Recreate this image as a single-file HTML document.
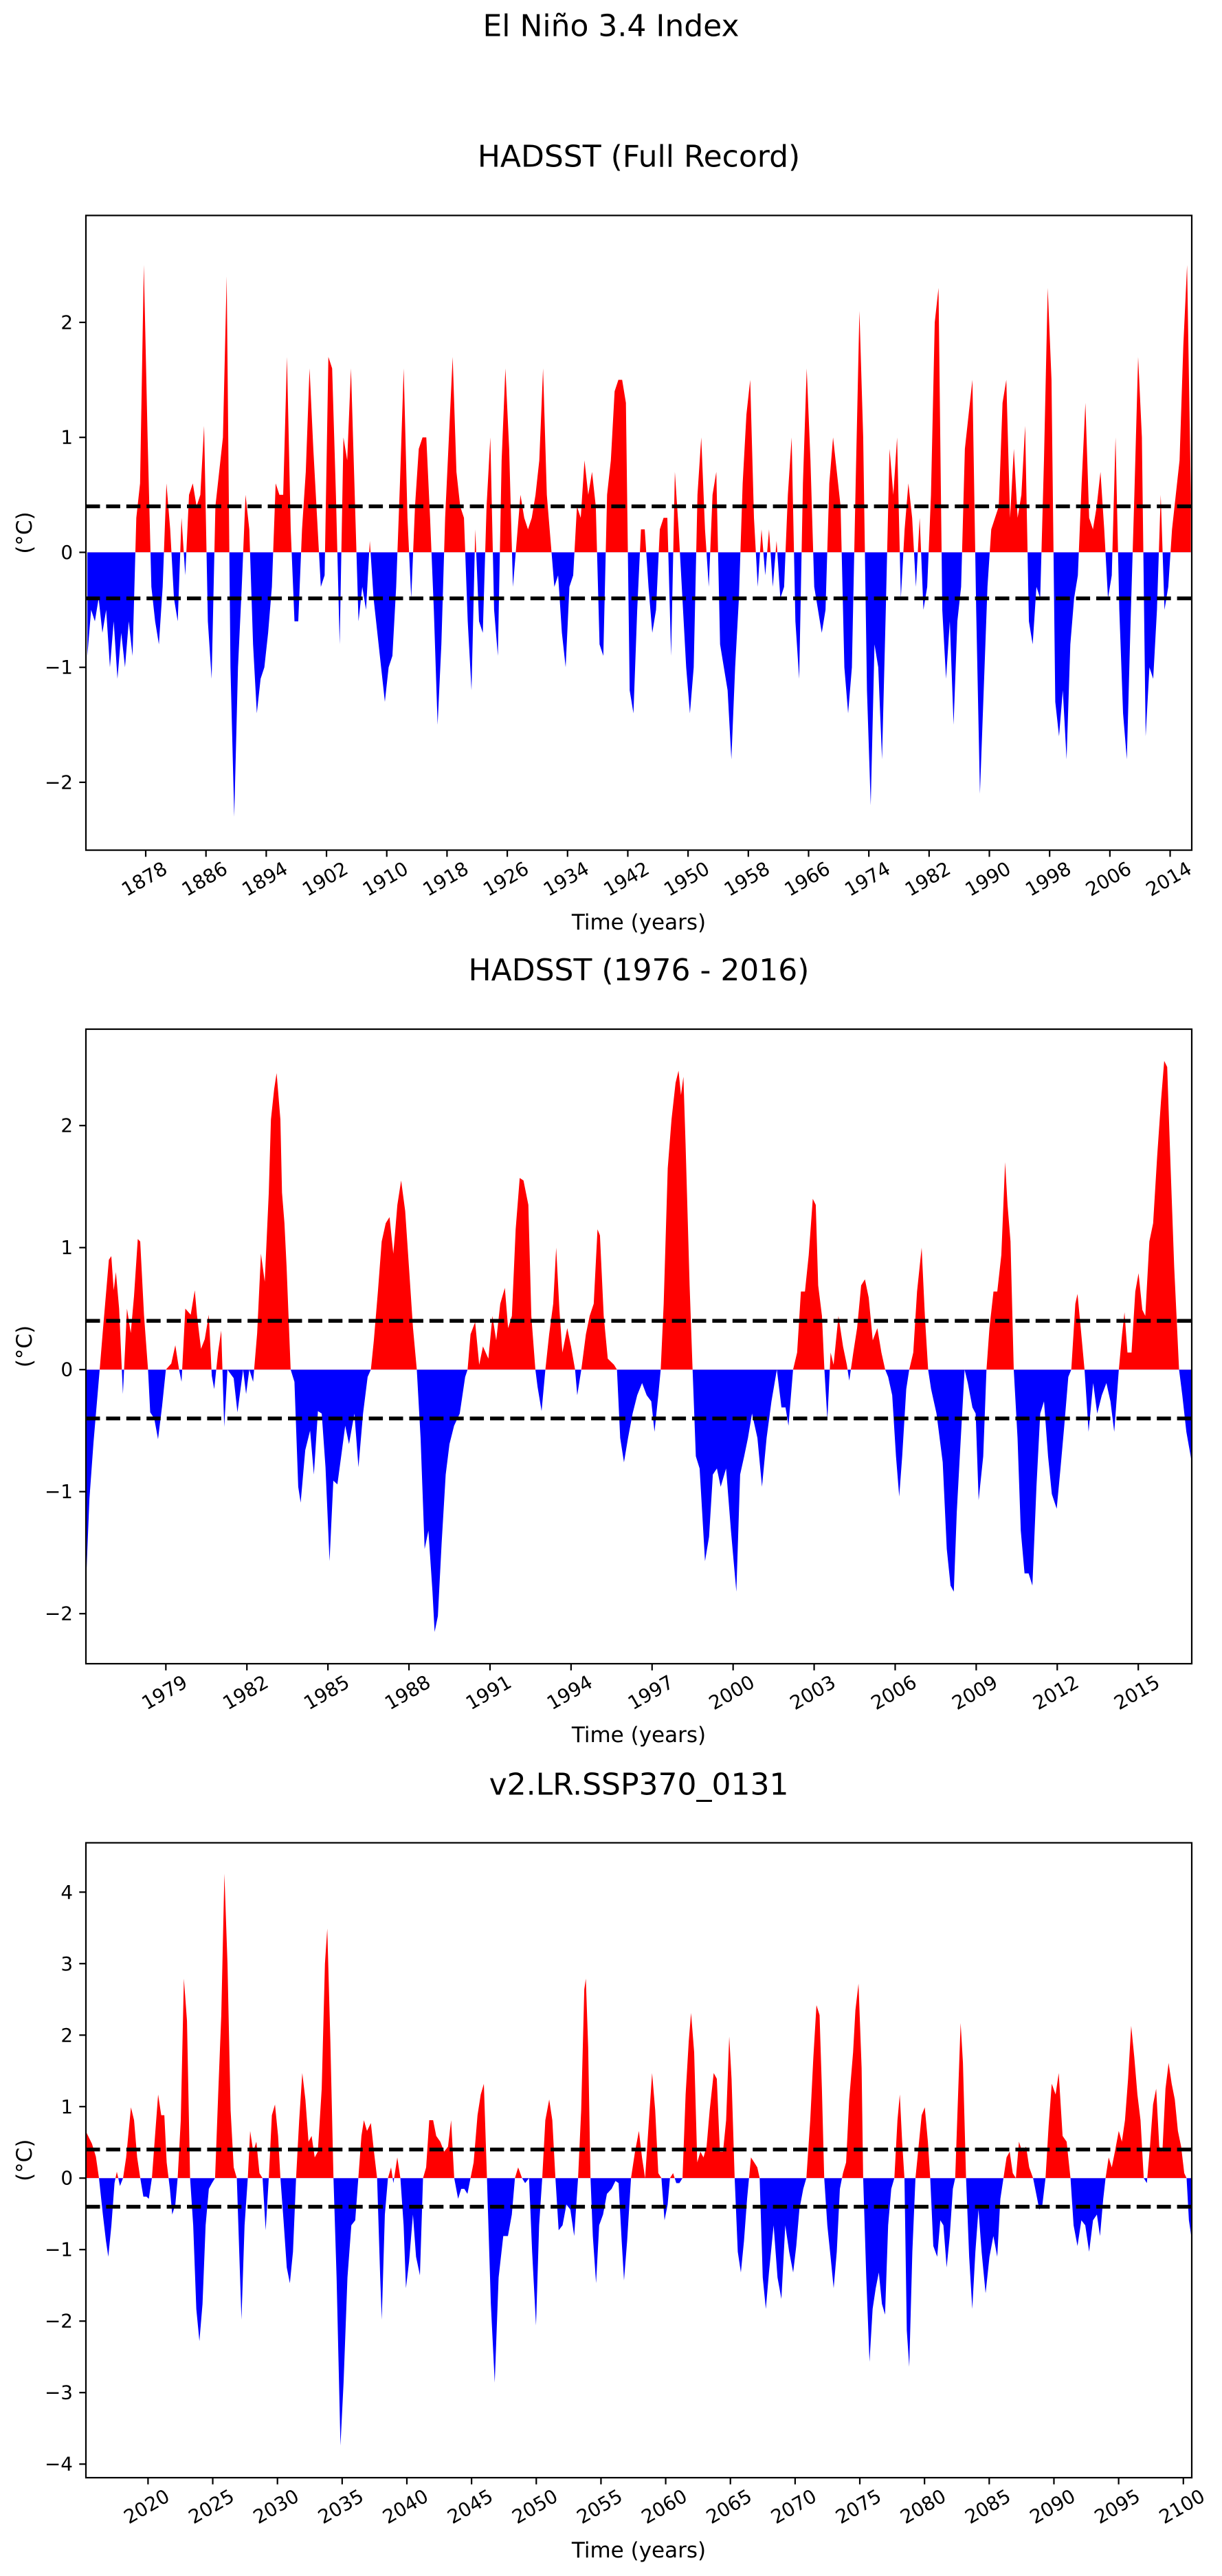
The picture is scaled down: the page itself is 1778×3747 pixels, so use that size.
<!DOCTYPE html>
<html><head><meta charset="utf-8"><title>El Niño 3.4 Index</title>
<style>
html,body{margin:0;padding:0;background:#fff;}
svg{display:block;font-family:"DejaVu Sans","Liberation Sans",sans-serif;}
</style></head>
<body>
<svg id="fig" xmlns="http://www.w3.org/2000/svg" width="1778" height="3747" viewBox="0 0 1778 3747">
<rect x="0" y="0" width="1778" height="3747" fill="#fff"/>
<text x="889" y="38" font-size="44" text-anchor="middle" dominant-baseline="central">El Niño 3.4 Index</text>
</svg>
<script>
// ---- Panel 1: HADSST full record (half-year samples from 1870) ----
const p1StartYear = 1870.25;
const p1StepYears = 0.5;
const p1Values = [
-0.9,-0.5,-0.6,-0.4,-0.7,-0.5,-1.0,-0.6,-1.1,-0.7,-1.0,-0.6,-0.9,0.3,0.6,2.5,1.0,-0.3,-0.6,-0.8,
-0.3,0.6,0.2,-0.4,-0.6,0.3,-0.2,0.5,0.6,0.4,0.5,1.1,-0.6,-1.1,0.4,0.7,1.0,2.4,-1.0,-2.3,
-1.0,-0.3,0.5,0.2,-0.8,-1.4,-1.1,-1.0,-0.7,-0.3,0.6,0.5,0.5,1.7,0.2,-0.6,-0.6,0.2,0.7,1.6,
0.9,0.3,-0.3,-0.2,1.7,1.6,0.5,-0.8,1.0,0.8,1.6,0.5,-0.6,-0.3,-0.5,0.1,-0.4,-0.7,-1.0,-1.3,
-1.0,-0.9,-0.3,0.6,1.6,0.3,-0.4,0.4,0.9,1.0,1.0,0.3,-0.5,-1.5,-0.8,0.3,1.0,1.7,0.7,0.4,
0.3,-0.6,-1.2,0.2,-0.6,-0.7,0.4,1.0,-0.5,-0.9,0.8,1.6,0.9,-0.3,0.1,0.5,0.3,0.2,0.3,0.5,
0.8,1.6,0.5,0.1,-0.3,-0.2,-0.7,-1.0,-0.3,-0.2,0.4,0.3,0.8,0.5,0.7,0.4,-0.8,-0.9,0.5,0.8,
1.4,1.5,1.5,1.3,-1.2,-1.4,-0.5,0.2,0.2,-0.3,-0.7,-0.5,0.2,0.3,0.3,-0.9,0.7,0.2,-0.4,-1.0,
-1.4,-1.0,0.5,1.0,0.2,-0.3,0.5,0.7,-0.8,-1.0,-1.2,-1.8,-1.0,-0.4,0.6,1.2,1.5,0.3,-0.3,0.2,
-0.2,0.2,-0.3,0.1,-0.4,-0.3,0.5,1.0,-0.6,-1.1,0.6,1.6,0.8,-0.3,-0.5,-0.7,-0.5,0.6,1.0,0.7,
0.4,-1.0,-1.4,-1.0,0.6,2.1,1.0,-1.2,-2.2,-0.8,-1.0,-1.8,-0.5,0.9,0.5,1.0,-0.4,0.2,0.6,0.3,
-0.3,0.3,-0.5,-0.3,0.5,2.0,2.3,-0.5,-1.1,-0.6,-1.5,-0.6,-0.3,0.9,1.2,1.5,-0.5,-2.1,-1.2,-0.3,
0.2,0.3,0.4,1.3,1.5,0.3,0.9,0.3,0.5,1.1,-0.6,-0.8,-0.3,-0.4,0.8,2.3,1.5,-1.3,-1.6,-1.2,
-1.8,-0.8,-0.4,-0.2,0.6,1.3,0.3,0.2,0.4,0.7,0.2,-0.4,-0.2,1.0,-0.5,-1.4,-1.8,-0.6,0.5,1.7,
1.0,-1.6,-1.0,-1.1,-0.5,0.5,-0.5,-0.3,0.2,0.5,0.8,1.8,2.5,0.5
];
const p1XTicks = [1878,1886,1894,1902,1910,1918,1926,1934,1942,1950,1958,1966,1974,1982,1990,1998,2006,2014];
const p1YTicks = [-2,-1,0,1,2];

// ---- Panel 2: HADSST 1976-2016 ----
const p2Times = [
1976.03,1976.17,1976.32,1976.55,1976.66,1976.89,1976.98,1977.07,1977.15,1977.27,1977.41,1977.56,1977.70,1977.82,1977.96,1978.05,1978.19,1978.34,1978.42,1978.57,1978.71,1978.86,
1979.00,1979.20,1979.35,1979.49,1979.58,1979.72,1979.92,1980.07,1980.15,1980.30,1980.44,1980.59,1980.70,1980.79,1980.93,1981.05,1981.16,1981.28,1981.51,1981.65,1981.86,1981.97,
1982.09,1982.23,1982.38,1982.52,1982.66,1982.81,1982.89,1983.01,1983.10,1983.24,1983.30,1983.39,1983.47,1983.62,1983.76,1983.90,1983.99,1984.16,1984.34,1984.48,1984.63,1984.77,1984.91,
1985.06,1985.20,1985.35,1985.49,1985.64,1985.78,1985.98,1986.13,1986.30,1986.47,1986.59,1986.70,1986.85,1986.99,1987.14,1987.28,1987.42,1987.57,1987.71,1987.86,1988.00,1988.15,1988.29,
1988.43,1988.58,1988.72,1988.87,1988.95,1989.07,1989.21,1989.36,1989.50,1989.67,1989.88,1990.08,1990.17,1990.28,1990.45,1990.60,1990.74,1990.94,1991.09,1991.23,1991.38,1991.55,1991.67,
1991.81,1991.95,1992.10,1992.24,1992.42,1992.53,1992.68,1992.76,1992.91,1993.05,1993.19,1993.34,1993.45,1993.57,1993.68,1993.86,1994.00,1994.15,1994.23,1994.38,1994.55,1994.69,1994.84,
1994.98,1995.07,1995.21,1995.36,1995.59,1995.70,1995.82,1995.96,1996.11,1996.28,1996.45,1996.63,1996.80,1996.97,1997.09,1997.23,1997.32,1997.43,1997.58,1997.72,1997.87,1997.98,1998.07,
1998.16,1998.24,1998.39,1998.50,1998.62,1998.76,1998.96,1999.11,1999.25,1999.40,1999.54,1999.74,1999.92,2000.12,2000.26,2000.41,2000.55,2000.70,2000.90,2001.07,2001.24,2001.42,2001.62,
2001.79,2001.94,2002.05,2002.22,2002.37,2002.51,2002.66,2002.80,2002.95,2003.06,2003.15,2003.29,2003.38,2003.49,2003.61,2003.72,2003.90,2004.07,2004.21,2004.30,2004.45,2004.59,2004.74,
2004.88,2005.02,2005.17,2005.34,2005.49,2005.63,2005.74,2005.89,2006.03,2006.15,2006.26,2006.41,2006.52,2006.67,2006.81,2006.98,2007.10,2007.22,2007.33,2007.53,2007.76,2007.91,2008.05,
2008.17,2008.28,2008.43,2008.57,2008.69,2008.86,2008.98,2009.09,2009.26,2009.38,2009.49,2009.64,2009.78,2009.93,2010.07,2010.16,2010.27,2010.39,2010.53,2010.65,2010.79,2010.94,2011.08,
2011.23,2011.37,2011.51,2011.66,2011.80,2011.98,2012.12,2012.26,2012.41,2012.52,2012.67,2012.75,2012.87,2013.01,2013.16,2013.33,2013.48,2013.65,2013.82,2013.97,2014.11,2014.28,2014.40,
2014.49,2014.60,2014.75,2014.89,2015.01,2015.15,2015.26,2015.41,2015.55,2015.70,2015.84,2015.96,2016.07,2016.19,2016.33,2016.51,2016.63,2016.78,2016.98
];
const p2Values = [
-1.82,-1.06,-0.6,0,0.3,0.9,0.93,0.65,0.8,0.5,-0.2,0.5,0.3,0.6,1.07,1.05,0.45,0,-0.35,-0.4,-0.57,-0.3,
0,0.05,0.2,0,-0.1,0.5,0.45,0.65,0.45,0.17,0.25,0.45,-0.05,-0.16,0.14,0.32,-0.47,0,-0.07,-0.35,0,-0.2,
0,-0.1,0.3,0.95,0.72,1.45,2.05,2.3,2.43,2.05,1.45,1.2,0.84,0,-0.1,-0.96,-1.09,-0.66,-0.5,-0.86,-0.34,-0.36,-0.8,
-1.57,-0.91,-0.94,-0.71,-0.46,-0.61,-0.36,-0.8,-0.36,-0.06,0,0.24,0.64,1.05,1.2,1.25,0.95,1.35,1.55,1.3,0.84,0.34,0,
-0.56,-1.47,-1.32,-1.82,-2.15,-2.02,-1.42,-0.86,-0.61,-0.46,-0.36,-0.06,0,0.29,0.39,0.04,0.19,0.09,0.44,0.24,0.54,0.67,0.34,
0.44,1.15,1.57,1.55,1.35,0.44,0,-0.14,-0.34,0,0.29,0.54,1.0,0.49,0.14,0.34,0.19,0,-0.21,0,0.29,0.44,0.54,
1.15,1.1,0.44,0.09,0.04,0,-0.56,-0.76,-0.56,-0.36,-0.21,-0.11,-0.21,-0.26,-0.51,-0.21,0,0.54,1.65,2.05,2.35,2.45,2.25,
2.4,1.85,0.69,0,-0.71,-0.81,-1.57,-1.37,-0.86,-0.81,-0.96,-0.81,-1.32,-1.82,-0.86,-0.71,-0.56,-0.36,-0.56,-0.96,-0.56,-0.26,0,
-0.31,-0.31,-0.46,0,0.14,0.64,0.64,0.94,1.4,1.35,0.69,0.44,0,-0.41,0.14,0.04,0.44,0.19,0.04,-0.09,0.14,0.34,0.69,
0.74,0.59,0.24,0.34,0.14,0,-0.06,-0.21,-0.71,-1.04,-0.71,-0.16,0,0.14,0.64,1.0,0.44,0,-0.16,-0.36,-0.76,-1.47,-1.77,
-1.82,-1.17,-0.56,0,-0.11,-0.31,-0.36,-1.07,-0.71,0,0.34,0.64,0.64,0.94,1.7,1.35,1.05,0,-0.56,-1.32,-1.67,-1.67,-1.77,
-0.96,-0.36,-0.26,-0.71,-1.02,-1.14,-0.81,-0.46,-0.06,0,0.54,0.62,0.34,0,-0.51,-0.11,-0.36,-0.21,-0.11,-0.26,-0.51,0,0.29,
0.47,0.14,0.14,0.64,0.79,0.49,0.44,1.05,1.2,1.75,2.2,2.53,2.48,1.7,0.84,0,-0.21,-0.51,-0.76
];
const p2XTicks = [1979,1982,1985,1988,1991,1994,1997,2000,2003,2006,2009,2012,2015];
const p2YTicks = [-2,-1,0,1,2];

// ---- Panel 3: v2.LR.SSP370_0131 ----
const p3Times = [
2015.18,2015.67,2015.97,2016.21,2016.51,2016.75,2016.93,2017.17,2017.41,2017.59,2017.83,2018.07,2018.31,2018.68,2018.92,2019.16,2019.40,2019.64,2019.88,2020.06,
2020.30,2020.54,2020.78,2021.02,2021.26,2021.44,2021.69,2021.87,2022.11,2022.29,2022.53,2022.77,2023.01,2023.25,2023.49,2023.73,2023.97,2024.21,2024.45,2024.70,
2024.94,2025.18,2025.42,2025.66,2025.90,2026.14,2026.38,2026.62,2026.86,2026.98,2027.22,2027.46,2027.71,2027.89,2028.13,2028.37,2028.61,2028.85,2029.09,2029.33,
2029.57,2029.81,2030.05,2030.23,2030.47,2030.72,2030.96,2031.20,2031.44,2031.68,2031.92,2032.16,2032.40,2032.64,2032.88,2033.12,2033.42,2033.67,2033.85,2034.09,
2034.33,2034.57,2034.87,2035.11,2035.41,2035.71,2036.01,2036.25,2036.49,2036.68,2036.92,2037.22,2037.46,2037.70,2037.94,2038.06,2038.30,2038.54,2038.78,2038.96,
2039.26,2039.50,2039.75,2039.93,2040.17,2040.47,2040.71,2041.01,2041.25,2041.49,2041.73,2042.03,2042.27,2042.58,2042.88,2043.18,2043.42,2043.66,2043.96,2044.20,
2044.44,2044.68,2044.92,2045.16,2045.46,2045.71,2045.95,2046.19,2046.49,2046.79,2047.09,2047.45,2047.81,2048.11,2048.35,2048.60,2048.90,2049.14,2049.44,2049.68,
2049.98,2050.22,2050.46,2050.70,2051.00,2051.24,2051.48,2051.73,2052.03,2052.33,2052.63,2052.93,2053.23,2053.47,2053.71,2053.83,2054.01,2054.19,2054.37,2054.62,
2054.86,2055.16,2055.46,2055.82,2056.12,2056.36,2056.60,2056.78,2057.02,2057.32,2057.63,2057.93,2058.17,2058.41,2058.65,2058.95,2059.19,2059.43,2059.67,2059.91,
2060.15,2060.33,2060.57,2060.82,2061.06,2061.30,2061.54,2061.78,2061.96,2062.20,2062.44,2062.68,2062.92,2063.16,2063.40,2063.71,2063.95,2064.19,2064.43,2064.67,
2064.91,2065.09,2065.33,2065.57,2065.81,2066.05,2066.29,2066.59,2066.84,2067.08,2067.26,2067.50,2067.74,2067.98,2068.34,2068.64,2068.94,2069.24,2069.54,2069.85,
2070.09,2070.33,2070.63,2070.87,2071.17,2071.41,2071.65,2071.89,2072.07,2072.25,2072.49,2072.74,2072.98,2073.22,2073.46,2073.70,2073.94,2074.18,2074.48,2074.66,
2074.90,2075.14,2075.26,2075.50,2075.75,2075.99,2076.23,2076.47,2076.71,2076.95,2077.19,2077.43,2077.67,2077.91,2078.09,2078.27,2078.45,2078.63,2078.82,2079.06,
2079.30,2079.54,2079.78,2080.02,2080.26,2080.44,2080.68,2080.98,2081.22,2081.46,2081.71,2081.95,2082.19,2082.37,2082.61,2082.79,2082.97,2083.21,2083.45,2083.69,
2083.93,2084.17,2084.41,2084.72,2085.02,2085.32,2085.62,2085.86,2086.10,2086.34,2086.58,2086.82,2087.06,2087.30,2087.54,2087.85,2088.09,2088.39,2088.63,2088.87,
2089.11,2089.35,2089.59,2089.83,2090.13,2090.37,2090.67,2090.98,2091.28,2091.52,2091.82,2092.12,2092.42,2092.72,2093.02,2093.32,2093.56,2093.81,2093.99,2094.23,
2094.47,2094.71,2095.01,2095.25,2095.49,2095.73,2095.97,2096.21,2096.45,2096.69,2096.94,2097.18,2097.42,2097.66,2097.90,2098.14,2098.38,2098.62,2098.86,2099.10,
2099.34,2099.58,2099.83,2100.07,2100.25,2100.43,2100.61
];
const p3Values = [
0.66,0.48,0.3,0,-0.51,-0.88,-1.1,-0.66,-0.07,0.09,-0.11,0,0.29,0.99,0.81,0.29,0,-0.26,-0.26,-0.29,
0,0.59,1.17,0.88,0.88,0.22,-0.15,-0.51,-0.37,0,0.81,2.79,2.2,0,-0.66,-1.83,-2.28,-1.76,-0.66,-0.15,
-0.07,0,1.17,2.28,4.26,3.0,0.95,0.15,0,-0.66,-1.98,-0.66,0,0.66,0.37,0.51,0.07,0,-0.73,0,
0.88,1.03,0.59,0,-0.59,-1.25,-1.47,-1.03,0,0.81,1.47,1.1,0.51,0.59,0.29,0.37,1.25,3.0,3.49,1.91,
0,-1.39,-3.74,-2.86,-1.39,-0.66,-0.59,0,0.59,0.81,0.66,0.77,0.37,0,-1.39,-1.98,-0.51,0,0.15,-0.07,
0.29,0,-0.66,-1.54,-1.17,-0.51,-1.1,-1.36,0,0.15,0.81,0.81,0.59,0.51,0.37,0.44,0.81,0,-0.29,-0.15,
-0.15,-0.22,0,0.22,0.88,1.17,1.32,0,-1.76,-2.86,-1.39,-0.81,-0.81,-0.51,0,0.15,0,-0.07,0,-1.03,
-2.06,-0.66,0,0.81,1.1,0.81,0,-0.73,-0.66,-0.37,-0.44,-0.81,0,0.95,2.64,2.79,1.83,0,-0.81,-1.47,
-0.66,-0.51,-0.22,-0.15,-0.04,-0.07,-0.88,-1.43,-0.88,0,0.37,0.66,0.29,0,0.66,1.47,0.95,0.07,0,-0.59,
-0.37,0,0.07,-0.07,-0.07,0,1.17,1.91,2.31,1.76,0.22,0.37,0.29,0.44,0.95,1.47,1.39,0.37,0.37,0.81,
1.98,1.39,0,-1.03,-1.32,-0.88,-0.29,0.29,0.22,0.15,0,-1.39,-1.83,-1.32,-0.66,-1.39,-1.69,-0.66,-1.03,-1.32,
-0.95,-0.44,-0.15,0,0.81,1.69,2.42,2.28,1.25,0,-0.66,-1.1,-1.54,-1.03,-0.15,0.07,0.22,1.1,1.76,2.35,
2.72,1.54,0,-1.39,-2.57,-1.83,-1.54,-1.32,-1.76,-1.91,-0.66,-0.15,0,0.81,1.17,0.51,0,-2.13,-2.64,-1.03,
0,0.44,0.88,0.99,0.51,0,-0.95,-1.1,-0.59,-0.66,-1.25,-0.81,-0.15,0,1.25,2.17,1.61,0,-1.1,-1.83,
-1.03,-0.44,-1.03,-1.61,-1.1,-0.81,-1.1,-0.29,0,0.29,0.37,0.07,0,0.51,0.37,0.44,0.15,0,-0.22,-0.44,
-0.37,0,0.73,1.32,1.17,1.47,0.59,0.51,0,-0.66,-0.95,-0.59,-0.66,-1.03,-0.59,-0.51,-0.81,-0.29,0,0.29,
0.15,0.37,0.66,0.51,0.81,1.39,2.13,1.69,1.17,0.81,0,-0.07,0.44,1.03,1.25,0.44,0.37,1.25,1.61,1.32,
1.1,0.66,0.44,0.07,0,-0.59,-0.81
];
const p3XTicks = [2020,2025,2030,2035,2040,2045,2050,2055,2060,2065,2070,2075,2080,2085,2090,2095,2100];
const p3YTicks = [-4,-3,-2,-1,0,1,2,3,4];

const THRESH = 0.4;
const NS = 'http://www.w3.org/2000/svg';
const svg = document.getElementById('fig');

function mk(tag, attrs, parent) {
  const e = document.createElementNS(NS, tag);
  for (const k in attrs) e.setAttribute(k, attrs[k]);
  (parent || svg).appendChild(e);
  return e;
}

const p1Times = p1Values.map((v, i) => p1StartYear + i * p1StepYears);

const panels = [
  {id:'full', title:'HADSST (Full Record)', titleY:228, top:313.4, bottom:1236.6, xmin:1870.06, xmax:2016.87, ymin:-2.59, ymax:2.93, times:p1Times, values:p1Values, xticks:p1XTicks, yticks:p1YTicks, xlabelY:1342},
  {id:'recent', title:'HADSST (1976 - 2016)', titleY:1411.6, top:1497, bottom:2420, xmin:1976.04, xmax:2016.98, ymin:-2.41, ymax:2.79, times:p2Times, values:p2Values, xticks:p2XTicks, yticks:p2YTicks, xlabelY:2524},
  {id:'ssp370', title:'v2.LR.SSP370_0131', titleY:2596, top:2680.5, bottom:3604, xmin:2015.2, xmax:2100.65, ymin:-4.19, ymax:4.69, times:p3Times, values:p3Values, xticks:p3XTicks, yticks:p3YTicks, xlabelY:3710}
];
const LEFT = 125, RIGHT = 1734;

panels.forEach((p, pi) => {
  const xs = t => LEFT + (t - p.xmin) / (p.xmax - p.xmin) * (RIGHT - LEFT);
  const ys = v => p.bottom - (v - p.ymin) / (p.ymax - p.ymin) * (p.bottom - p.top);
  const g = mk('g', {});
  
  

  const title = mk('text', {x:(LEFT+RIGHT)/2, y:p.titleY, 'font-size':44, 'text-anchor':'middle', 'dominant-baseline':'central'}, g);
  
  
  title.textContent = p.title;

  const y0 = ys(0);
  const defs = mk('defs', {}, g);
  const cpR = mk('clipPath', {id:'clipR' + pi}, defs);
  mk('rect', {x:LEFT, y:p.top, width:RIGHT-LEFT, height:y0-p.top}, cpR);
  const cpB = mk('clipPath', {id:'clipB' + pi}, defs);
  mk('rect', {x:LEFT, y:y0, width:RIGHT-LEFT, height:p.bottom-y0}, cpB);

  let d = 'M' + xs(p.times[0]).toFixed(2) + ',' + y0.toFixed(2);
  for (let i = 0; i < p.values.length; i++) {
    d += 'L' + xs(p.times[i]).toFixed(2) + ',' + ys(p.values[i]).toFixed(2);
  }
  d += 'L' + xs(p.times[p.times.length-1]).toFixed(2) + ',' + y0.toFixed(2) + 'Z';

  const red = mk('path', {d:d, fill:'#ff0000', stroke:'none', 'clip-path':'url(#clipR' + pi + ')'}, g);
  
  
  const blue = mk('path', {d:d, fill:'#0000ff', stroke:'none', 'clip-path':'url(#clipB' + pi + ')'}, g);
  
  

  [THRESH, -THRESH].forEach(th => {
    const ln = mk('line', {x1:LEFT, x2:RIGHT, y1:ys(th), y2:ys(th), stroke:'#000', 'stroke-width':5.5, 'stroke-dasharray':'20.5 8.9'}, g);
    
    
  });

  const frame = mk('rect', {x:LEFT, y:p.top, width:RIGHT-LEFT, height:p.bottom-p.top, fill:'none', stroke:'#000', 'stroke-width':2.2}, g);
  
  

  p.yticks.forEach(v => {
    const yy = ys(v);
    const tk = mk('line', {x1:LEFT-9.7, x2:LEFT, y1:yy, y2:yy, stroke:'#000', 'stroke-width':2.2}, g);
    
    
    const lb = mk('text', {x:LEFT-19, y:yy, 'font-size':27.8, 'text-anchor':'end', 'dominant-baseline':'central'}, g);
    
    
    lb.textContent = v < 0 ? '\u2212' + Math.abs(v) : String(v);
  });

  p.xticks.forEach(t => {
    const xx = xs(t);
    const tk = mk('line', {x1:xx, x2:xx, y1:p.bottom, y2:p.bottom+9.7, stroke:'#000', 'stroke-width':2.2}, g);
    
    
    const cy = p.bottom + 42;
    const lb = mk('text', {x:xx-2, y:cy, 'font-size':27.8, 'text-anchor':'middle', 'dominant-baseline':'central', transform:'rotate(-30 ' + (xx-2) + ' ' + cy + ')'}, g);
    
    
    lb.textContent = String(t);
  });

  const xl = mk('text', {x:(LEFT+RIGHT)/2, y:p.xlabelY, 'font-size':31, 'text-anchor':'middle', 'dominant-baseline':'central'}, g);
  
  
  xl.textContent = 'Time (years)';

  const cyl = (p.top + p.bottom) / 2;
  const yl = mk('text', {x:36, y:cyl, 'font-size':31, 'text-anchor':'middle', 'dominant-baseline':'central', transform:'rotate(-90 36 ' + cyl + ')'}, g);
  
  
  yl.textContent = '(\u00B0C)';
});
</script>
</body></html>
